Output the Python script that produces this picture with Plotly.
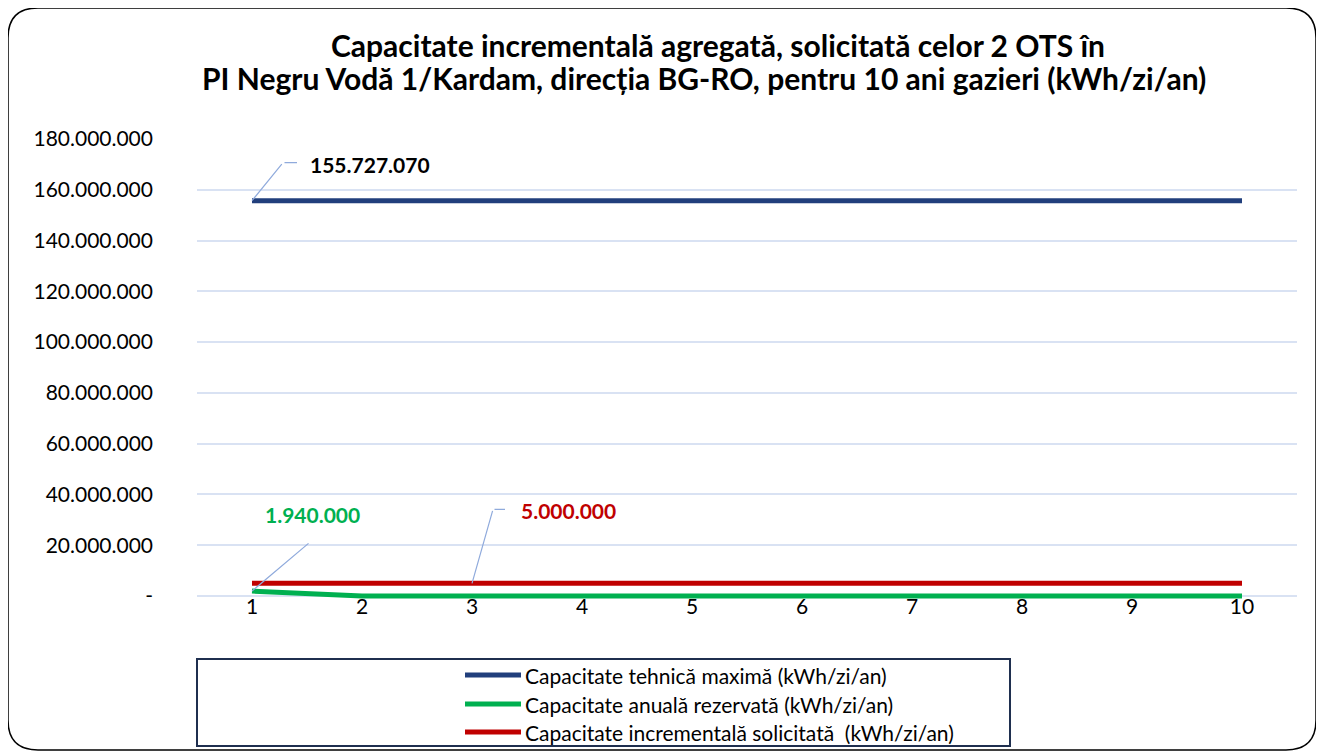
import plotly.graph_objects as go

years = [1, 2, 3, 4, 5, 6, 7, 8, 9, 10]
tehnica = [155727070] * 10
rezervata = [1940000, 0, 0, 0, 0, 0, 0, 0, 0, 0]
incrementala = [5000000] * 10
y_ticks = [0, 20000000, 40000000, 60000000, 80000000, 100000000, 120000000, 140000000, 160000000, 180000000]
y_tick_text = ["-", "20.000.000", "40.000.000", "60.000.000", "80.000.000", "100.000.000",
               "120.000.000", "140.000.000", "160.000.000", "180.000.000"]

names = ["Capacitate tehnică maximă (kWh/zi/an)",
         "Capacitate anuală rezervată (kWh/zi/an)",
         "Capacitate incrementală solicitată  (kWh/zi/an)"]
colors = ["#213F7C", "#00B050", "#C00000"]
title_lines = ["<b>Capacitate incrementală agregată, solicitată celor 2 OTS în</b>",
               "<b>PI Negru Vodă 1/Kardam, direcția BG-RO, pentru 10 ani gazieri (kWh/zi/an)</b>"]

FONT = "Lato"
fig = go.Figure()
for vals, nm, c in zip([tehnica, rezervata, incrementala], names, colors):
    fig.add_trace(go.Scatter(x=years, y=vals, mode="lines", name=nm, showlegend=False,
                             line=dict(color=c, width=5)))

# plot area geometry: 1100 x 460 px, y range slightly below zero so lines at 0 are not clipped
H = 460.0
PB = 3.0  # px below zero


def py(page_y):
    # page y pixel -> paper y (zero line at page y=596)
    return (596 - page_y + PB) / H


def px(page_x):
    return (page_x - 197) / 1100.0


lead = "#8FAADC"
ann = []
# blue label
ann.append(dict(x=1, y=tehnica[0], text="", showarrow=True, arrowhead=0, arrowwidth=1.2,
                arrowcolor=lead, ax=31, ay=-38))
ann.append(dict(x=1, y=tehnica[0], text="", showarrow=True, arrowhead=0, arrowwidth=1.2,
                arrowcolor=lead, ax=-14, ay=0, xshift=45, yshift=38))
ann.append(dict(x=1, y=tehnica[0], text="<b>155.727.070</b>", showarrow=False,
                xshift=118, yshift=36, font=dict(family=FONT, size=21, color="#000000")))
# green label
ann.append(dict(x=1, y=rezervata[0], text="", showarrow=True, arrowhead=0, arrowwidth=1.2,
                arrowcolor=lead, ax=58, ay=-49))
ann.append(dict(x=1, y=rezervata[0], text="<b>1.940.000</b>", showarrow=False,
                xshift=60, yshift=77, font=dict(family=FONT, size=21, color="#00B050")))
# red label
ann.append(dict(x=3, y=incrementala[2], text="", showarrow=True, arrowhead=0, arrowwidth=1.2,
                arrowcolor=lead, ax=21, ay=-74))
ann.append(dict(x=3, y=incrementala[2], text="", showarrow=True, arrowhead=0, arrowwidth=1.2,
                arrowcolor=lead, ax=-12, ay=0, xshift=33, yshift=74))
ann.append(dict(x=3, y=incrementala[2], text="<b>5.000.000</b>", showarrow=False,
                xshift=96, yshift=73, font=dict(family=FONT, size=21, color="#C00000")))
# title (two lines)
ann.append(dict(xref="paper", yref="paper", x=px(718), y=py(45), xanchor="center", yanchor="middle",
                showarrow=False, text=title_lines[0],
                font=dict(family=FONT, size=30, color="#000000")))
ann.append(dict(xref="paper", yref="paper", x=px(703.5), y=py(78), xanchor="center", yanchor="middle",
                showarrow=False, text=title_lines[1],
                font=dict(family=FONT, size=30, color="#000000")))

# outer rounded border (paper coords)
x0, x1, y0, y1 = px(8), px(1316), py(750), py(8)
rx, ry = 30 / 1100.0, 30 / H
path = (f"M {x0+rx},{y1} L {x1-rx},{y1} Q {x1},{y1} {x1},{y1-ry} "
        f"L {x1},{y0+ry} Q {x1},{y0} {x1-rx},{y0} L {x0+rx},{y0} Q {x0},{y0} {x0},{y0+ry} "
        f"L {x0},{y1-ry} Q {x0},{y1} {x0+rx},{y1} Z")
shapes = [
    dict(type="path", xref="paper", yref="paper", path=path, line=dict(color="#000000", width=1.5)),
    dict(type="rect", xref="paper", yref="paper", x0=0, x1=px(1010), y0=py(746), y1=py(659),
         line=dict(color="#1F2F4F", width=2)),
]

# manual legend (inside the box)
leg_rows = [675, 704, 732]
for nm, c, ly in zip(names, colors, leg_rows):
    shapes.append(dict(type="line", xref="paper", yref="paper", x0=px(465), x1=px(521),
                       y0=py(ly), y1=py(ly), line=dict(color=c, width=5)))
    ann.append(dict(xref="paper", yref="paper", x=px(523), y=py(ly), xanchor="left", yanchor="middle",
                    showarrow=False, text=nm, font=dict(family=FONT, size=21, color="#000000")))

ymin = -PB / (457.0 / 180000000)
fig.update_layout(
    width=1316, height=747,
    margin=dict(l=189, r=27, t=131, b=156),
    paper_bgcolor="white", plot_bgcolor="white",
    font=dict(family=FONT, size=21, color="#000000"),
    showlegend=False,
    annotations=ann, shapes=shapes,
    xaxis=dict(range=[0.5, 10.5], tickmode="array", tickvals=years, ticktext=[str(v) for v in years],
               showgrid=False, zeroline=False, showline=False, ticks="",
               ticklabelstandoff=-7,
               tickfont=dict(family=FONT, size=21, color="#000000")),
    yaxis=dict(range=[ymin, 180000000], tickmode="array", tickvals=y_ticks, ticktext=y_tick_text,
               showgrid=True, gridcolor="#D9E2F3", gridwidth=1.5, zeroline=True,
               zerolinecolor="#D9E2F3", zerolinewidth=1.5, showline=False, ticks="",
               ticklabelstandoff=43,
               tickfont=dict(family=FONT, size=21, color="#000000")),
)

fig.write_html("out.html")
